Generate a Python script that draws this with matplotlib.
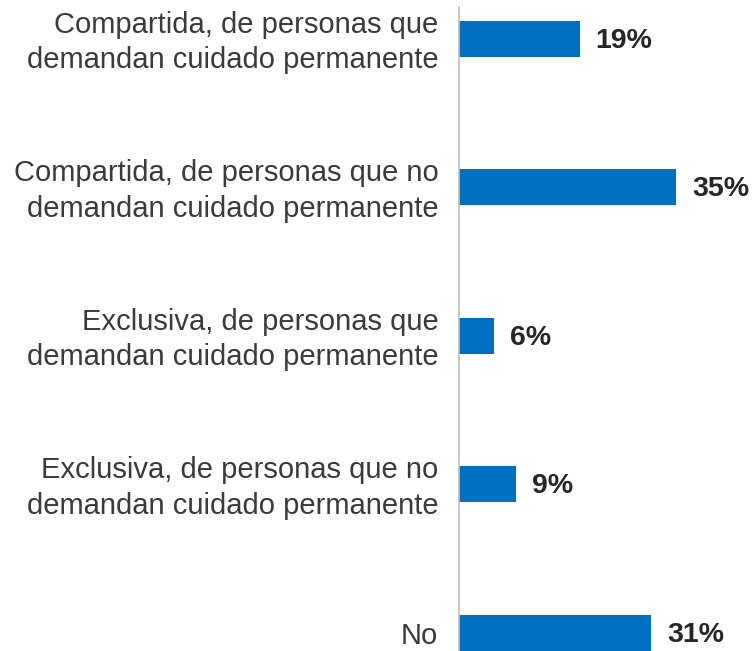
import numpy as np
import matplotlib.pyplot as plt
import matplotlib.transforms as mtransforms

plt.rcParams['font.family'] = ['Liberation Sans', 'DejaVu Sans']

categories = [
    "Compartida, de personas que\ndemandan cuidado permanente",
    "Compartida, de personas que no\ndemandan cuidado permanente",
    "Exclusiva, de personas que\ndemandan cuidado permanente",
    "Exclusiva, de personas que no\ndemandan cuidado permanente",
    "No",
]
values = [19.5, 35.0, 5.7, 9.3, 31.0]
value_labels = ["19%", "35%", "6%", "9%", "31%"]

fig = plt.figure(figsize=(7.53, 6.51), dpi=100)
ax = fig.add_axes([458.5 / 753, 0, 294.5 / 753, 1 - 7 / 651])

pos = np.arange(len(categories))
ax.barh(pos, values, height=0.243, color='#0070C0')

ax.set_ylim(4.122, -0.215)
ax.set_xlim(0, 47.4)

ax.set_yticks(pos)
ax.set_yticklabels(categories, fontsize=21, color='#3A3A3A', ha='right',
                   linespacing=1.33)
ax.tick_params(axis='y', length=0, pad=14.5)
ax.set_xticks([])

# nudge two-line labels up a little
shift = mtransforms.ScaledTranslation(0, 3 / 100, fig.dpi_scale_trans)
for t in ax.get_yticklabels():
    if "\n" in t.get_text():
        t.set_transform(t.get_transform() + shift)

for s in ['top', 'right', 'bottom']:
    ax.spines[s].set_visible(False)
ax.spines['left'].set_color('#BFBFBF')
ax.spines['left'].set_linewidth(1.2)

for p, v, lab in zip(pos, values, value_labels):
    ax.annotate(lab, (v, p), xytext=(11.5, -1.5), textcoords='offset points',
                ha='left', va='center', fontsize=20.5, fontweight='bold',
                color='#262626')

fig.savefig('out.png', dpi=100)
